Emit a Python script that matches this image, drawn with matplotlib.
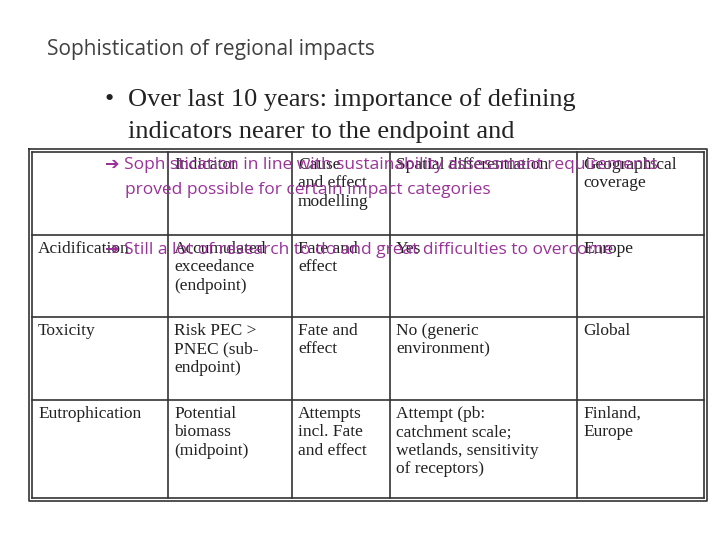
import matplotlib
matplotlib.use("Agg")
import matplotlib.pyplot as plt

title = "Sophistication of regional impacts"
bullet_lines = ["Over last 10 years: importance of defining", "indicators nearer to the endpoint and"]
purple_lines = [("➔ Sophistication in line with sustainability assessment requirements", 165),
                ("proved possible for certain impact categories", 190),
                ("➔ Still a lot of research to do and great difficulties to overcome", 250)]
headers = ["", "Indicator", "Cause\nand effect\nmodelling", "Spatial differentiation", "Geographical\ncoverage"]
rows = [
    ["Acidification", "Accumulated\nexceedance\n(endpoint)", "Fate and\neffect", "Yes", "Europe"],
    ["Toxicity", "Risk PEC >\nPNEC (sub-\nendpoint)", "Fate and\neffect", "No (generic\nenvironment)", "Global"],
    ["Eutrophication", "Potential\nbiomass\n(midpoint)", "Attempts\nincl. Fate\nand effect", "Attempt (pb:\ncatchment scale;\nwetlands, sensitivity\nof receptors)", "Finland,\nEurope"],
]
col_x = [32, 168, 292, 390, 577, 704]
row_y = [152, 235, 317, 400, 498]

fig = plt.figure(figsize=(7.2, 5.4), dpi=100)
ax = fig.add_axes([0, 0, 1, 1])
ax.set_xlim(0, 720); ax.set_ylim(540, 0); ax.axis("off")

ax.text(47, 50, title, fontsize=15, family="Open Sans", color="#404040", va="center")
ax.text(105, 100, "•", fontsize=19, family="Liberation Serif", color="#222222", va="center")
for i, l in enumerate(bullet_lines):
    ax.text(128, 100 + 32 * i, l, fontsize=19, family="Liberation Serif", color="#222222", va="center")

for x in col_x:
    ax.plot([x, x], [row_y[0], row_y[-1]], color="#333333", lw=1.2)
for y in row_y:
    ax.plot([col_x[0], col_x[-1]], [y, y], color="#333333", lw=1.2)
ax.plot([col_x[0] - 3, col_x[-1] + 3, col_x[-1] + 3, col_x[0] - 3, col_x[0] - 3],
        [row_y[0] - 3, row_y[0] - 3, row_y[-1] + 3, row_y[-1] + 3, row_y[0] - 3], color="#333333", lw=1.2)

tf = dict(fontsize=12.5, family="Liberation Serif", color="#222222", va="top", linespacing=1.2)
for j, h in enumerate(headers):
    ax.text(col_x[j] + 6, row_y[0] + 5, h, **tf)
for i, r in enumerate(rows):
    for j, c in enumerate(r):
        ax.text(col_x[j] + 6, row_y[i + 1] + 6, c, **tf)

for t, y in purple_lines:
    x = 105 if t.startswith("➔") else 125
    ax.text(x, y, t, fontsize=12.5, family=["Open Sans", "DejaVu Sans"], color="#993399", va="center")

fig.savefig("out.png", dpi=100)
